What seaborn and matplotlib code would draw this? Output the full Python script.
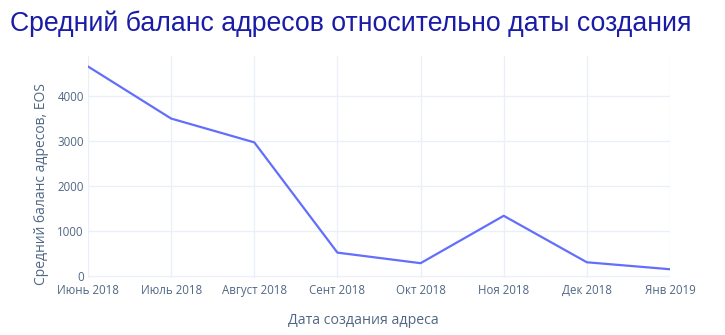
import matplotlib
matplotlib.use("Agg")
import matplotlib.pyplot as plt
import seaborn as sns
import pandas as pd

months = ["Июнь 2018", "Июль 2018", "Август 2018", "Сент 2018",
          "Окт 2018", "Ноя 2018", "Дек 2018", "Янв 2019"]
balance = [4660, 3500, 2970, 515, 280, 1335, 300, 145]
yticks = [0, 1000, 2000, 3000, 4000]

title = "Средний баланс адресов относительно даты создания"
xlabel = "Дата создания адреса"
ylabel = "Средний баланс адресов, EOS"

sns.set_style("white")
plt.rcParams['font.family'] = ['Open Sans', 'DejaVu Sans']

df = pd.DataFrame({"month": months, "balance": balance, "pos": range(len(months))})

fig = plt.figure(figsize=(7.25, 3.35), dpi=100)
ax = fig.add_axes([88/725, 1-278/335, (670-88)/725, (278-56)/335])

sns.lineplot(data=df, x="pos", y="balance", ax=ax, color="#636efa", linewidth=1.6)

ax.set_xlim(0, len(months) - 1)
ax.set_ylim(-50, 4893)
ax.set_xticks(range(len(months)))
ax.set_xticklabels(months)
ax.set_yticks(yticks)
ax.set_yticklabels([str(v) for v in yticks])
ax.grid(True, color="#ebf0f8", linewidth=1)
ax.set_axisbelow(True)
for s in ax.spines.values():
    s.set_visible(False)
ax.tick_params(axis="both", length=0, labelsize=8.3, colors="#506784")
ax.tick_params(axis="x", pad=4)
ax.tick_params(axis="y", pad=3)

ax.set_xlabel(xlabel, fontsize=10.2, color="#506784", va="center")
ax.xaxis.set_label_coords((363-88)/582, (278-321)/222)
ax.set_ylabel(ylabel, fontsize=10.0, color="#506784", va="center")
ax.yaxis.set_label_coords((41.5-88)/582, (278-184)/222)

fig.text(10/725, 1-31/335, title, fontsize=19.2, color="#1a1ca8",
         family=["Liberation Sans", "DejaVu Sans"], ha="left", va="baseline")

fig.savefig("out.png", dpi=100, facecolor="white")
